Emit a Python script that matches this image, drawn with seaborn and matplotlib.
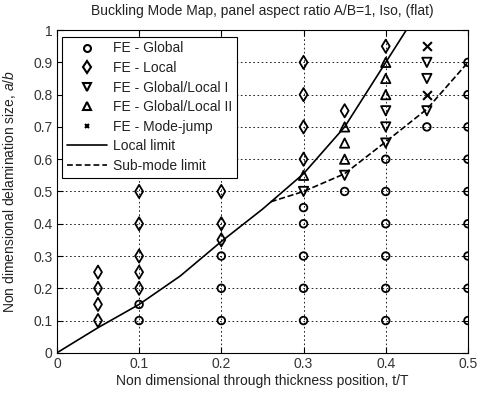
import matplotlib
matplotlib.use("Agg")
import matplotlib.pyplot as plt
import seaborn as sns
from matplotlib.lines import Line2D

# ---------------- data ----------------
global_x = [0.1, 0.1,
            0.2, 0.2, 0.2,
            0.3, 0.3, 0.3, 0.3, 0.3,
            0.35,
            0.4, 0.4, 0.4, 0.4, 0.4, 0.4,
            0.45,
            0.5, 0.5, 0.5, 0.5, 0.5, 0.5, 0.5, 0.5, 0.5]
global_y = [0.1, 0.15,
            0.1, 0.2, 0.3,
            0.1, 0.2, 0.3, 0.4, 0.45,
            0.5,
            0.1, 0.2, 0.3, 0.4, 0.5, 0.6,
            0.7,
            0.1, 0.2, 0.3, 0.4, 0.5, 0.6, 0.7, 0.8, 0.9]

local_x = [0.05, 0.05, 0.05, 0.05,
           0.1, 0.1, 0.1, 0.1, 0.1,
           0.2, 0.2, 0.2,
           0.3, 0.3, 0.3, 0.3,
           0.35,
           0.4]
local_y = [0.1, 0.15, 0.2, 0.25,
           0.2, 0.25, 0.3, 0.4, 0.5,
           0.35, 0.4, 0.5,
           0.6, 0.7, 0.8, 0.9,
           0.75,
           0.95]

gl1_x = [0.3, 0.35, 0.4, 0.4, 0.4, 0.45, 0.45, 0.45]
gl1_y = [0.5, 0.55, 0.65, 0.7, 0.75, 0.75, 0.85, 0.9]

gl2_x = [0.3, 0.35, 0.35, 0.35, 0.4, 0.4, 0.4]
gl2_y = [0.55, 0.6, 0.65, 0.7, 0.8, 0.85, 0.9]

jump_x = [0.45, 0.45]
jump_y = [0.8, 0.95]

local_limit_x = [0.0, 0.05, 0.1, 0.15, 0.2, 0.25, 0.3, 0.35, 0.4, 0.45]
local_limit_y = [0.0, 0.078, 0.15, 0.238, 0.345, 0.445, 0.555, 0.7, 0.9, 1.1]

sub_limit_x = [0.26, 0.3, 0.35, 0.4, 0.45, 0.5]
sub_limit_y = [0.468, 0.5, 0.555, 0.654, 0.755, 0.9]

x_ticks = [0, 0.1, 0.2, 0.3, 0.4, 0.5]
x_tick_labels = ["0", "0.1", "0.2", "0.3", "0.4", "0.5"]
y_ticks = [0, 0.1, 0.2, 0.3, 0.4, 0.5, 0.6, 0.7, 0.8, 0.9, 1]
y_tick_labels = ["0", "0.1", "0.2", "0.3", "0.4", "0.5", "0.6", "0.7", "0.8", "0.9", "1"]

# ---------------- style ----------------
sns.set_style("white")
plt.rcParams["font.family"] = ["Liberation Sans", "DejaVu Sans"]
plt.rcParams["font.size"] = 9.5
plt.rcParams["mathtext.fontset"] = "custom"
plt.rcParams["mathtext.rm"] = "Liberation Sans"
plt.rcParams["mathtext.it"] = "Liberation Sans:italic"

fig = plt.figure(figsize=(4.78, 3.96), dpi=100)
ax = fig.add_axes([0.119, 0.109, 0.860, 0.815])

kw = dict(ax=ax, color="none", edgecolor="black", linewidth=1.3, legend=False, zorder=4)
sns.scatterplot(x=global_x, y=global_y, marker="o", s=30, **kw)
sns.scatterplot(x=local_x, y=local_y, marker="d", s=45, **kw)
sns.scatterplot(x=gl1_x, y=gl1_y, marker="v", s=45, **kw)
sns.scatterplot(x=gl2_x, y=gl2_y, marker="^", s=45, **kw)
sns.scatterplot(x=jump_x, y=jump_y, marker="x", s=40, color="black",
                linewidth=1.5, legend=False, zorder=4, ax=ax)

sns.lineplot(x=local_limit_x, y=local_limit_y, ax=ax, color="black", lw=1.2,
             sort=False, estimator=None, zorder=3)
sns.lineplot(x=sub_limit_x, y=sub_limit_y, ax=ax, color="black", lw=1.2,
             linestyle="--", dashes=(3.5, 1.8), sort=False, estimator=None, zorder=3)

ax.set_xlim(0, 0.5)
ax.set_ylim(0, 1)
ax.set_xticks(x_ticks)
ax.set_xticklabels(x_tick_labels)
ax.set_yticks(y_ticks)
ax.set_yticklabels(y_tick_labels)
ax.tick_params(direction="in", length=4, width=0.8, colors="black",
               labelcolor="#333333", labelsize=10, pad=3)
ax.tick_params(top=True, right=True, bottom=True, left=True)
ax.grid(True, color="black", linestyle=(0, (2, 3)), linewidth=0.6)
for s in ax.spines.values():
    s.set_visible(True)
    s.set_color("black")
    s.set_linewidth(0.8)

ax.set_title("Buckling Mode Map, panel aspect ratio A/B=1, Iso, (flat)",
             fontsize=10, color="#222222", pad=11)
ax.set_xlabel("Non dimensional through thickness position, t/T",
              fontsize=10, color="#222222", labelpad=2)
ax.set_ylabel("Non dimensional delamination size, $a/b$",
              fontsize=10, color="#222222", labelpad=11)

handles = [
    Line2D([], [], marker="o", ls="none", mfc="none", mec="black", mew=1.5, ms=5),
    Line2D([], [], marker="d", ls="none", mfc="none", mec="black", mew=1.5, ms=6),
    Line2D([], [], marker="v", ls="none", mfc="none", mec="black", mew=1.5, ms=6),
    Line2D([], [], marker="^", ls="none", mfc="none", mec="black", mew=1.5, ms=6),
    Line2D([], [], marker="x", ls="none", color="black", mew=1.5, ms=3),
    Line2D([], [], color="black", lw=1.2),
    Line2D([], [], color="black", lw=1.2, ls="--", dashes=(3.5, 1.8)),
]
labels = ["FE - Global", "FE - Local", "FE - Global/Local I", "FE - Global/Local II",
          "FE - Mode-jump", "Local limit", "Sub-mode limit"]
leg = ax.legend(handles, labels, loc="upper left", bbox_to_anchor=(0.012, 0.98),
                frameon=True, fancybox=False, edgecolor="black", framealpha=1,
                fontsize=10, handlelength=2.9, handletextpad=0.4,
                labelspacing=0.40, borderpad=0.35, borderaxespad=0)
leg.get_frame().set_linewidth(0.8)
for t in leg.get_texts():
    t.set_color("#222222")

fig.savefig("out.png", dpi=100)
